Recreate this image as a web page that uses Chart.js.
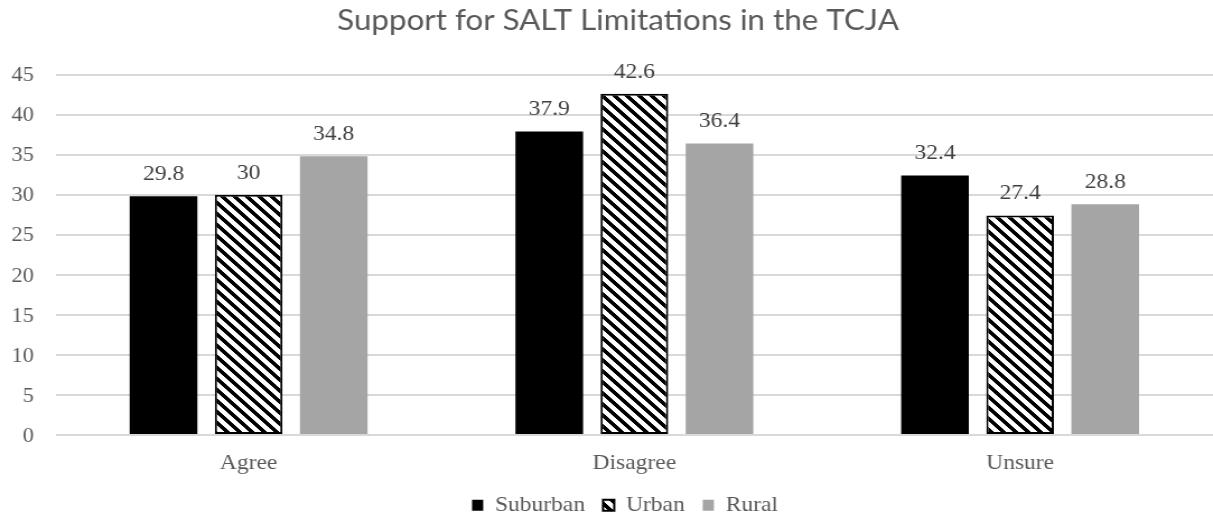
<!DOCTYPE html>
<html>
<head>
<meta charset="utf-8">
<script src="https://cdn.jsdelivr.net/npm/chart.js@4/dist/chart.umd.min.js"></script>
<style>
  html, body { margin: 0; padding: 0; background: #ffffff; }
  #wrap { width: 1213px; height: 529px; overflow: hidden; position: relative; }
  #c { display: block; transform: scaleX(1.12); transform-origin: 0 0; }
</style>
</head>
<body>
<div id="wrap"><canvas id="c" width="1083" height="529"></canvas></div>
<script>
const categories = ['Agree', 'Disagree', 'Unsure'];
const seriesNames = ['Suburban', 'Urban', 'Rural'];
const suburban = [29.8, 37.9, 32.4];
const urban = [30, 42.6, 27.4];
const rural = [34.8, 36.4, 28.8];
const yMin = 0;
const yMax = 45;
const yStep = 5;
const chartTitle = 'Support for SALT Limitations in the TCJA';

function makeStripePattern() {
  const n = 11;
  const t = document.createElement('canvas');
  t.width = n; t.height = n;
  const g = t.getContext('2d');
  const img = g.createImageData(n, n);
  for (let y = 0; y < n; y++) {
    for (let x = 0; x < n; x++) {
      const k = (((x - y) % n) + n) % n;
      const v = k < 5 ? 0 : 255;
      const i = (y * n + x) * 4;
      img.data[i] = v; img.data[i + 1] = v; img.data[i + 2] = v; img.data[i + 3] = 255;
    }
  }
  g.putImageData(img, 0, 0);
  return document.getElementById('c').getContext('2d').createPattern(t, 'repeat');
}
const stripes = makeStripePattern();

const serif = 'Liberation Serif';

const shiftPlugin = {
  id: 'shiftBlocks',
  afterLayout(chart) {
    if (chart.legend) { chart.legend.left += 14; chart.legend.right += 14; }
    if (chart.titleBlock) { chart.titleBlock.left += 7.8; chart.titleBlock.right += 7.8; }
  }
};

const valueLabels = {
  id: 'valueLabels',
  afterDatasetsDraw(chart) {
    const ctx = chart.ctx;
    ctx.save();
    ctx.font = '21px "' + serif + '"';
    ctx.fillStyle = '#404040';
    ctx.textAlign = 'center';
    ctx.textBaseline = 'alphabetic';
    chart.data.datasets.forEach((ds, di) => {
      const meta = chart.getDatasetMeta(di);
      meta.data.forEach((el, i) => {
        ctx.fillText(String(ds.data[i]), el.x, el.y - 16);
      });
    });
    ctx.restore();
  }
};

new Chart(document.getElementById('c'), {
  type: 'bar',
  data: {
    labels: categories,
    datasets: [
      { label: seriesNames[0], data: suburban, backgroundColor: '#000000', borderColor: '#000000', borderWidth: 0 },
      { label: seriesNames[1], data: urban, backgroundColor: stripes, borderColor: '#000000', borderWidth: 2, borderSkipped: false },
      { label: seriesNames[2], data: rural, backgroundColor: '#a5a5a5', borderColor: '#a5a5a5', borderWidth: 0 }
    ]
  },
  options: {
    responsive: false,
    animation: false,
    devicePixelRatio: 1,
    datasets: { bar: { categoryPercentage: 0.662, barPercentage: 0.795 } },
    layout: { padding: { left: 0, right: -5, top: 0, bottom: 3.3 } },
    plugins: {
      title: {
        display: true,
        text: chartTitle,
        color: '#595959',
        font: { family: 'Lato', size: 28, weight: 'normal' },
        padding: { top: 4.5, bottom: 36.4 }
      },
      legend: {
        display: true,
        position: 'bottom',
        labels: {
          color: '#595959',
          font: { family: serif, size: 21 },
          boxWidth: 10,
          boxHeight: 11,
          padding: 16
        }
      },
      tooltip: { enabled: false }
    },
    scales: {
      x: {
        grid: { display: false, drawTicks: false },
        border: { display: false },
        ticks: { color: '#595959', font: { family: serif, size: 21 }, padding: 15.4 },
        afterFit(scale) { scale.height = 43.7; }
      },
      y: {
        min: yMin,
        max: yMax,
        grid: { color: '#d9d9d9', lineWidth: 2, drawTicks: false },
        border: { display: false },
        ticks: { stepSize: yStep, color: '#595959', font: { family: serif, size: 20 }, padding: 19.5, labelOffset: 1.5 },
        afterFit(scale) { scale.width = 49.8; }
      }
    }
  },
  plugins: [shiftPlugin, valueLabels]
});
</script>
</body>
</html>
